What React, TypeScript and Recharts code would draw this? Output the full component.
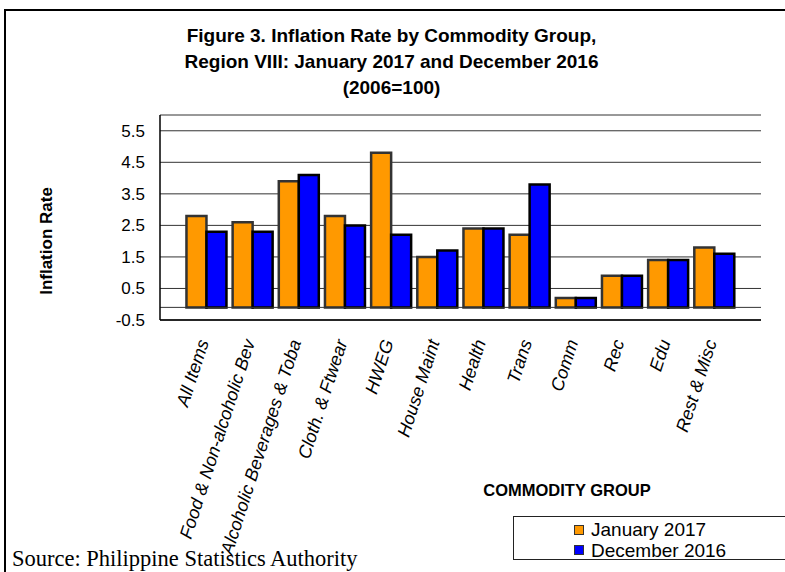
import React from 'react';
import {
  BarChart,
  Bar,
  XAxis,
  YAxis,
  CartesianGrid,
  ReferenceLine,
} from 'recharts';

const categories = [
  'All Items',
  'Food & Non-alcoholic Bev',
  'Alcoholic Beverages & Toba',
  'Cloth. & Ftwear',
  'HWEG',
  'House Maint',
  'Health',
  'Trans',
  'Comm',
  'Rec',
  'Edu',
  'Rest & Misc',
];
const jan2017 = [2.8, 2.6, 3.9, 2.8, 4.8, 1.5, 2.4, 2.2, 0.2, 0.9, 1.4, 1.8];
const dec2016 = [2.3, 2.3, 4.1, 2.5, 2.2, 1.7, 2.4, 3.8, 0.2, 0.9, 1.4, 1.6];
const yTicks = [-0.5, 0.5, 1.5, 2.5, 3.5, 4.5, 5.5];
// the bars in the source stand on a line a little below zero
const barBase = -0.1;

const series = [
  { key: 'jan', name: 'January 2017', fill: '#FF9900', stroke: '#333333' },
  { key: 'dec', name: 'December 2016', fill: '#0000FF', stroke: '#000000' },
];

const data = categories.map((name, i) => ({
  name,
  jan: [barBase, jan2017[i]],
  dec: [barBase, dec2016[i]],
}));

const sans = 'Arial, "Liberation Sans", sans-serif';

const CategoryTick = (props: any) => {
  const { x, y, payload } = props;
  const ax = x + 3;
  const ay = y + 22;
  return (
    <text
      x={ax}
      y={ay}
      transform={`rotate(-72 ${ax} ${ay})`}
      textAnchor="end"
      fontStyle="italic"
      fontSize={18}
      fontFamily={sans}
      fill="#000"
    >
      {payload.value}
    </text>
  );
};

const App: React.FC = () => {
  return (
    <div
      style={{
        position: 'absolute',
        left: 0,
        top: 0,
        width: 785,
        height: 572,
        overflow: 'hidden',
        background: '#fff',
        fontFamily: sans,
      }}
    >
      {/* outer frame, cut off at right and bottom like the source */}
      <div
        style={{
          position: 'absolute',
          left: 4,
          top: 9,
          width: 820,
          height: 620,
          border: '2px solid #000',
        }}
      />

      <div
        style={{
          position: 'absolute',
          left: 0,
          top: 23,
          width: 783,
          textAlign: 'center',
          fontWeight: 'bold',
          fontSize: 19,
          lineHeight: '26px',
          color: '#000',
        }}
      >
        <div>Figure 3. Inflation Rate by Commodity Group,</div>
        <div>Region VIII: January 2017 and December 2016</div>
        <div>(2006=100)</div>
      </div>

      <div style={{ position: 'absolute', left: 0, top: 0 }}>
        <BarChart
          width={785}
          height={572}
          data={data}
          margin={{ top: 115, left: 100, right: 24, bottom: 52 }}
          barCategoryGap="7.5%"
          barGap={0}
        >
          <CartesianGrid horizontal vertical={false} stroke="#333" strokeWidth={1} />
          <XAxis
            dataKey="name"
            interval={0}
            height={200}
            padding={{ left: 23, right: 24 }}
            tickLine={false}
            tickSize={0}
            tickMargin={0}
            axisLine={{ stroke: '#000', strokeWidth: 1.5 }}
            tick={<CategoryTick />}
          />
          <XAxis
            xAxisId="top"
            orientation="top"
            dataKey="name"
            height={0}
            tick={false}
            tickLine={false}
            axisLine={{ stroke: '#000', strokeWidth: 1.5 }}
          />
          <YAxis
            domain={[-0.5, 6]}
            ticks={yTicks}
            width={60}
            interval={0}
            tickLine={false}
            tickSize={6}
            tickMargin={9}
            axisLine={{ stroke: '#000', strokeWidth: 1.5 }}
            tick={{ fontSize: 17, fontFamily: sans, fill: '#000' }}
          />
          <YAxis
            yAxisId="right"
            orientation="right"
            width={0}
            tick={false}
            tickLine={false}
            axisLine={{ stroke: '#000', strokeWidth: 1.5 }}
          />
          <ReferenceLine y={barBase} stroke="#333" strokeWidth={1} />
          {series.map((s) => (
            <Bar
              key={s.key}
              dataKey={s.key}
              name={s.name}
              fill={s.fill}
              stroke={s.stroke}
              strokeWidth={2.5}
              isAnimationActive={false}
            />
          ))}
        </BarChart>
      </div>

      <div
        style={{
          position: 'absolute',
          left: 47,
          top: 241,
          transform: 'translate(-50%, -50%) rotate(-90deg)',
          whiteSpace: 'nowrap',
          fontWeight: 'bold',
          fontSize: 17,
          color: '#000',
        }}
      >
        Inflation Rate
      </div>

      <div
        style={{
          position: 'absolute',
          left: 567,
          top: 482,
          transform: 'translateX(-50%)',
          whiteSpace: 'nowrap',
          fontWeight: 'bold',
          fontSize: 16.5,
          lineHeight: 1,
          color: '#000',
        }}
      >
        COMMODITY GROUP
      </div>

      <div
        style={{
          position: 'absolute',
          left: 513,
          top: 516,
          width: 300,
          height: 44,
          border: '1px solid #222',
          boxSizing: 'border-box',
        }}
      >
        {series.map((s, i) => (
          <div
            key={s.key}
            style={{
              position: 'absolute',
              left: 60,
              top: 2 + i * 20.5,
              display: 'flex',
              alignItems: 'center',
              fontSize: 19,
              lineHeight: '21px',
              whiteSpace: 'nowrap',
              color: '#000',
            }}
          >
            <span
              style={{
                display: 'inline-block',
                width: 8,
                height: 8,
                background: s.fill,
                border: '1.5px solid #333',
                marginRight: 7,
              }}
            />
            {s.name}
          </div>
        ))}
      </div>

      <div
        style={{
          position: 'absolute',
          left: 12,
          top: 546,
          whiteSpace: 'nowrap',
          fontFamily: '"Liberation Serif", "Times New Roman", serif',
          fontSize: 22.5,
          lineHeight: '25px',
          color: '#000',
        }}
      >
        Source: Philippine Statistics Authority
      </div>
    </div>
  );
};

export default App;
